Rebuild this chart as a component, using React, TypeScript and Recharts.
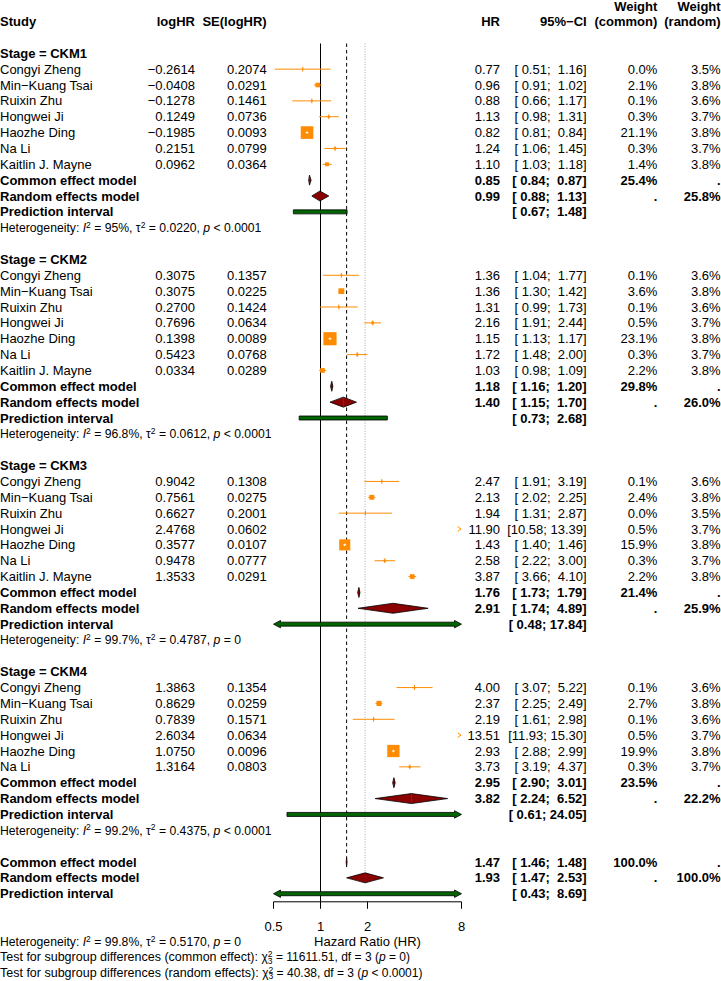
import React from 'react';
import { ComposedChart, XAxis, YAxis, Scatter, ReferenceLine } from 'recharts';

const FONT = "'Liberation Sans', Arial, Helvetica, sans-serif";
const MINUS = '\u2212';
const ORANGE = '#ff8c00';
const DIAMOND = '#8b0000';
const PRED = '#006400';

// values
const stageNames = ['CKM1', 'CKM2', 'CKM3', 'CKM4'];
const studyNames = ['Congyi Zheng', `Min${MINUS}Kuang Tsai`, 'Ruixin Zhu', 'Hongwei Ji', 'Haozhe Ding', 'Na Li', 'Kaitlin J. Mayne'];

const logHR = [
  [-0.2614, -0.0408, -0.1278, 0.1249, -0.1985, 0.2151, 0.0962],
  [0.3075, 0.3075, 0.27, 0.7696, 0.1398, 0.5423, 0.0334],
  [0.9042, 0.7561, 0.6627, 2.4768, 0.3577, 0.9478, 1.3533],
  [1.3863, 0.8629, 0.7839, 2.6034, 1.075, 1.3164],
];
const seLogHR = [
  [0.2074, 0.0291, 0.1461, 0.0736, 0.0093, 0.0799, 0.0364],
  [0.1357, 0.0225, 0.1424, 0.0634, 0.0089, 0.0768, 0.0289],
  [0.1308, 0.0275, 0.2001, 0.0602, 0.0107, 0.0777, 0.0291],
  [0.1354, 0.0259, 0.1571, 0.0634, 0.0096, 0.0803],
];
const hr = [
  [0.77, 0.96, 0.88, 1.13, 0.82, 1.24, 1.1],
  [1.36, 1.36, 1.31, 2.16, 1.15, 1.72, 1.03],
  [2.47, 2.13, 1.94, 11.9, 1.43, 2.58, 3.87],
  [4.0, 2.37, 2.19, 13.51, 2.93, 3.73],
];
const ciLow = [
  [0.51, 0.91, 0.66, 0.98, 0.81, 1.06, 1.03],
  [1.04, 1.3, 0.99, 1.91, 1.13, 1.48, 0.98],
  [1.91, 2.02, 1.31, 10.58, 1.4, 2.22, 3.66],
  [3.07, 2.25, 1.61, 11.93, 2.88, 3.19],
];
const ciHigh = [
  [1.16, 1.02, 1.17, 1.31, 0.84, 1.45, 1.18],
  [1.77, 1.42, 1.73, 2.44, 1.17, 2.0, 1.09],
  [3.19, 2.25, 2.87, 13.39, 1.46, 3.0, 4.1],
  [5.22, 2.49, 2.98, 15.3, 2.99, 4.37],
];
const weightCommon = [
  [0.0, 2.1, 0.1, 0.3, 21.1, 0.3, 1.4],
  [0.1, 3.6, 0.1, 0.5, 23.1, 0.3, 2.2],
  [0.1, 2.4, 0.0, 0.5, 15.9, 0.3, 2.2],
  [0.1, 2.7, 0.1, 0.5, 19.9, 0.3],
];
const weightRandom = [
  [3.5, 3.8, 3.6, 3.7, 3.8, 3.7, 3.8],
  [3.6, 3.8, 3.6, 3.7, 3.8, 3.7, 3.8],
  [3.6, 3.8, 3.5, 3.7, 3.8, 3.7, 3.8],
  [3.6, 3.8, 3.6, 3.7, 3.8, 3.7],
];

const commonEst = [0.85, 1.18, 1.76, 2.95];
const commonLow = [0.84, 1.16, 1.73, 2.9];
const commonHigh = [0.87, 1.2, 1.79, 3.01];
const commonWeight = [25.4, 29.8, 21.4, 23.5];
const randomEst = [0.99, 1.4, 2.91, 3.82];
const randomLow = [0.88, 1.15, 1.74, 2.24];
const randomHigh = [1.13, 1.7, 4.89, 6.52];
const randomWeight = [25.8, 26.0, 25.9, 22.2];
const predLow = [0.67, 0.73, 0.48, 0.61];
const predHigh = [1.48, 2.68, 17.84, 24.05];
const hetI2 = ['95%', '96.8%', '99.7%', '99.2%'];
const hetTau2 = ['0.0220', '0.0612', '0.4787', '0.4375'];
const hetP = ['< 0.0001', '< 0.0001', '= 0', '< 0.0001'];

const overallCommon = [1.47, 1.46, 1.48];
const overallRandom = [1.93, 1.47, 2.53];
const overallPred = [0.43, 8.69];
const overallHet = ['99.8%', '0.5170', '= 0'];
const testCommon = ['11611.51', '3', '= 0'];
const testRandom = ['40.38', '3', '< 0.0001'];

const xTicks = [0.5, 1, 2, 8];
const X_MIN = 0.5;
const X_MAX = 8;

// ---- helpers ----
const clampX = (v: number) => Math.min(X_MAX, Math.max(X_MIN, v));
const fmtLog = (v: number) => (v < 0 ? MINUS : '') + Math.abs(v).toFixed(4);
const pad = (s: string, n: number) => ' '.repeat(Math.max(0, n - s.length)) + s;
const fmtCI = (lo: number, hi: number) => `[${pad(lo.toFixed(2), 5)}; ${pad(hi.toFixed(2), 5)}]`;
const pct = (w: number) => `${w.toFixed(1)}%`;
const squareSide = (w: number) => 2.55 * Math.sqrt(w) + 0.9;

type TextRow = { x: number; y: number; kind: string; label?: string; cells?: string[]; het?: string[] };
type Pooled = { y: number; est: number; lo: number; hi: number };

const textRows: TextRow[] = [
  { x: 1, y: -3, kind: 'head1' },
  { x: 1, y: -2, kind: 'head2' },
];
const studyPoints: { x: number; y: number; w: number; over: boolean; lo: number; hi: number }[] = [];
const diamonds: Pooled[] = [];
const predBars: { y: number; lo: number; hi: number }[] = [];

let r = 0;
stageNames.forEach((s, g) => {
  textRows.push({ x: 1, y: r, kind: 'stage', label: `Stage = ${s}` });
  logHR[g].forEach((v, i) => {
    const y = r + 1 + i;
    textRows.push({
      x: 1, y, kind: 'study', label: studyNames[i],
      cells: [fmtLog(v), seLogHR[g][i].toFixed(4), hr[g][i].toFixed(2), fmtCI(ciLow[g][i], ciHigh[g][i]), pct(weightCommon[g][i]), pct(weightRandom[g][i])],
    });
    studyPoints.push({ x: clampX(hr[g][i]), y, w: weightCommon[g][i], over: hr[g][i] > X_MAX, lo: ciLow[g][i], hi: ciHigh[g][i] });
  });
  const n = logHR[g].length;
  const yc = r + n + 1;
  textRows.push({ x: 1, y: yc, kind: 'common', label: 'Common effect model', cells: ['', '', commonEst[g].toFixed(2), fmtCI(commonLow[g], commonHigh[g]), pct(commonWeight[g]), '.'] });
  textRows.push({ x: 1, y: yc + 1, kind: 'random', label: 'Random effects model', cells: ['', '', randomEst[g].toFixed(2), fmtCI(randomLow[g], randomHigh[g]), '.', pct(randomWeight[g])] });
  textRows.push({ x: 1, y: yc + 2, kind: 'pred', label: 'Prediction interval', cells: ['', '', '', fmtCI(predLow[g], predHigh[g]), '', ''] });
  textRows.push({ x: 1, y: yc + 3, kind: 'het', het: [hetI2[g], hetTau2[g], hetP[g]] });
  diamonds.push({ y: yc, est: commonEst[g], lo: commonLow[g], hi: commonHigh[g] });
  diamonds.push({ y: yc + 1, est: randomEst[g], lo: randomLow[g], hi: randomHigh[g] });
  predBars.push({ y: yc + 2, lo: predLow[g], hi: predHigh[g] });
  r = yc + 5;
});
const overallRow = r;
textRows.push({ x: 1, y: overallRow, kind: 'common', label: 'Common effect model', cells: ['', '', overallCommon[0].toFixed(2), fmtCI(overallCommon[1], overallCommon[2]), '100.0%', '.'] });
textRows.push({ x: 1, y: overallRow + 1, kind: 'random', label: 'Random effects model', cells: ['', '', overallRandom[0].toFixed(2), fmtCI(overallRandom[1], overallRandom[2]), '.', '100.0%'] });
textRows.push({ x: 1, y: overallRow + 2, kind: 'pred', label: 'Prediction interval', cells: ['', '', '', fmtCI(overallPred[0], overallPred[1]), '', ''] });
diamonds.push({ y: overallRow, est: overallCommon[0], lo: overallCommon[1], hi: overallCommon[2] });
diamonds.push({ y: overallRow + 1, est: overallRandom[0], lo: overallRandom[1], hi: overallRandom[2] });
predBars.push({ y: overallRow + 2, lo: overallPred[0], hi: overallPred[1] });

// column anchors (right edges) for the text table
const colEnds = [195, 266.7, 500, 586.7, 657.3, 720.6];

function Sup({ children }: { children: React.ReactNode }) {
  return <tspan dy={-4.5} fontSize={8.5}>{children}</tspan>;
}

function HetText({ x, y, vals }: { x: number; y: number; vals: string[] }) {
  return (
    <text x={x} y={y} fontSize={12.2} fontFamily={FONT} fill="#000">
      Heterogeneity: <tspan fontStyle="italic">I</tspan><Sup>2</Sup><tspan dy={4.5}> = {vals[0]}, τ</tspan><Sup>2</Sup><tspan dy={4.5}> = {vals[1]}, </tspan><tspan fontStyle="italic">p</tspan> {vals[2]}
    </text>
  );
}

function TestText({ x, y, label, vals }: { x: number; y: number; label: string; vals: string[] }) {
  return (
    <text x={x} y={y} fontSize={12} fontFamily={FONT} fill="#000">
      <tspan fontSize={12.5}>{label}: </tspan>χ<Sup>2</Sup><tspan dx={-4.7} dy={6.8} fontSize={8.5}>3</tspan><tspan dy={-2.3}> = {vals[0]}, df = {vals[1]} (</tspan><tspan fontStyle="italic">p</tspan> {vals[2]})
    </text>
  );
}

function RowText(props: any) {
  const { cy, payload } = props;
  const row = payload as TextRow;
  const base = cy + 4.6;
  if (row.kind === 'het') return <HetText x={0} y={cy + 4.3} vals={row.het || []} />;
  const common = { fontFamily: FONT, fontSize: 13, fill: '#000' };
  if (row.kind === 'head1') {
    return (
      <g fontWeight="bold">
        <text {...common} x={colEnds[4]} y={base + 0.3} textAnchor="end">Weight</text>
        <text {...common} x={colEnds[5]} y={base + 0.3} textAnchor="end">Weight</text>
      </g>
    );
  }
  if (row.kind === 'head2') {
    const heads = ['logHR', 'SE(logHR)', 'HR', `95%${MINUS}CI`, '(common)', '(random)'];
    return (
      <g fontWeight="bold">
        <text {...common} x={0} y={base}>Study</text>
        {heads.map((h, i) => (
          <text key={i} {...common} x={colEnds[i]} y={base} textAnchor="end">{h}</text>
        ))}
      </g>
    );
  }
  const bold = row.kind !== 'study';
  return (
    <g fontWeight={bold ? 'bold' : 'normal'}>
      <text {...common} x={0} y={base}>{row.label}</text>
      {(row.cells || []).map((c, i) =>
        c ? (
          <text key={i} {...common} x={colEnds[i]} y={base} textAnchor="end" style={{ whiteSpace: 'pre' }} xmlSpace="preserve">{c}</text>
        ) : null
      )}
    </g>
  );
}

function StudySquare(props: any) {
  const { cx, cy, payload } = props;
  if (payload.over) {
    return <polyline points={`${cx - 3.8},${cy - 2.3} ${cx - 0.5},${cy} ${cx - 3.8},${cy + 2.3}`} fill="none" stroke={ORANGE} strokeWidth={1} />;
  }
  const s = squareSide(payload.w);
  return (
    <g>
      <rect x={cx - s / 2} y={cy - s / 2} width={s} height={s} fill={ORANGE} />
      {s < 3 && <line x1={cx} x2={cx} y1={cy - 2.4} y2={cy + 2.4} stroke={ORANGE} strokeWidth={1} />}
      {payload.w >= 10 && (
        <g stroke="#fff" strokeWidth={1}>
          <line x1={cx - 1.4} x2={cx + 1.4} y1={cy} y2={cy} />
          <line x1={cx} x2={cx} y1={cy - 1.2} y2={cy + 1.2} />
        </g>
      )}
    </g>
  );
}

const ciShape = (side: number) => (p: any) => {
  const inside = Math.abs(p.x2 - p.x1) < side;
  return <line x1={p.x1} y1={p.y1} x2={p.x2} y2={p.y2} stroke={inside ? '#fff' : ORANGE} strokeWidth={1} />;
};

const DH = 5;
const diamondHalf = (left: boolean) => (p: any) => {
  const { x1, y1, x2 } = p;
  const y = y1;
  if (left) {
    return (
      <g>
        <polygon points={`${x1},${y} ${x2 + 0.4},${y - DH} ${x2 + 0.4},${y + DH}`} fill={DIAMOND} />
        <polyline points={`${x2},${y - DH} ${x1},${y} ${x2},${y + DH}`} fill="none" stroke="#000" strokeWidth={0.8} />
      </g>
    );
  }
  return (
    <g>
      <polygon points={`${x1},${y - DH} ${x2},${y} ${x1},${y + DH}`} fill={DIAMOND} />
      <polyline points={`${x1},${y - DH} ${x2},${y} ${x1},${y + DH}`} fill="none" stroke="#000" strokeWidth={0.8} />
    </g>
  );
};

const predShape = (arrowL: boolean, arrowR: boolean) => (p: any) => {
  const { x1, y1: y, x2 } = p;
  const h = 2;
  const ah = 3.7;
  const al = 7;
  const pts: number[][] = [];
  if (arrowL) pts.push([x1, y], [x1 + al, y - ah], [x1 + al, y - h]);
  else pts.push([x1, y - h]);
  if (arrowR) pts.push([x2 - al, y - h], [x2 - al, y - ah], [x2, y], [x2 - al, y + ah], [x2 - al, y + h]);
  else pts.push([x2, y - h], [x2, y + h]);
  if (arrowL) pts.push([x1 + al, y + h], [x1 + al, y + ah]);
  else pts.push([x1, y + h]);
  return <polygon points={pts.map((q) => q.join(',')).join(' ')} fill={PRED} stroke="#000" strokeWidth={0.8} />;
};

function AxisFooter(props: any) {
  const vb = props.viewBox || { x: 273.5, y: 901.8, width: 188, height: 30 };
  return (
    <g>
      <text x={vb.x + vb.width / 2} y={vb.y + 44.4} textAnchor="middle" fontSize={13} fontFamily={FONT} fill="#000">Hazard Ratio (HR)</text>
      <HetText x={0} y={vb.y + 44.2} vals={overallHet} />
      <TestText x={0} y={vb.y + 59.5} label="Test for subgroup differences (common effect)" vals={testCommon} />
      <TestText x={0} y={vb.y + 75.3} label="Test for subgroup differences (random effects)" vals={testRandom} />
    </g>
  );
}

const LINE_TOP = -0.62;

export default function App() {
  return (
    <div style={{ position: 'absolute', left: 0, top: 0, background: '#fff' }}>
      <ComposedChart width={721} height={981} margin={{ top: 5.73, right: 259.5, bottom: 49.2, left: 273.5 }}>
        <XAxis
          type="number"
          dataKey="x"
          scale="log"
          domain={[X_MIN, X_MAX]}
          ticks={xTicks}
          interval={0}
          height={30}
          tickSize={7}
          tickMargin={12.6}
          axisLine={{ stroke: '#000' }}
          tickLine={{ stroke: '#000' }}
          tick={{ fill: '#000', fontSize: 13, fontFamily: FONT }}
          label={<AxisFooter />}
        />
        <YAxis type="number" dataKey="y" domain={[-3, 53.51]} reversed hide />

        <ReferenceLine ifOverflow="visible" segment={[{ x: 1, y: LINE_TOP }, { x: 1, y: 53.51 }]} stroke="#000" strokeWidth={1} />
        <ReferenceLine ifOverflow="visible" segment={[{ x: overallCommon[0], y: LINE_TOP }, { x: overallCommon[0], y: overallRow - 0.33 }]} stroke="#000" strokeWidth={1} strokeDasharray="3.5 3" />
        <ReferenceLine ifOverflow="visible" segment={[{ x: overallRandom[0], y: LINE_TOP }, { x: overallRandom[0], y: overallRow + 0.67 }]} stroke="#a8a8a8" strokeWidth={1} strokeDasharray="1 1.6" />

        {studyPoints.filter((s) => s.lo < X_MAX).map((s, i) => (
          <ReferenceLine
            key={`ci${i}`}
            ifOverflow="visible"
            segment={[{ x: clampX(s.lo), y: s.y }, { x: clampX(s.hi), y: s.y }]}
            shape={ciShape(squareSide(s.w))}
          />
        ))}

        <Scatter data={studyPoints} dataKey="y" shape={StudySquare} isAnimationActive={false} />

        {diamonds.map((d, i) => (
          <ReferenceLine key={`dl${i}`} ifOverflow="visible" segment={[{ x: d.lo, y: d.y }, { x: d.est, y: d.y }]} shape={diamondHalf(true)} />
        ))}
        {diamonds.map((d, i) => (
          <ReferenceLine key={`dr${i}`} ifOverflow="visible" segment={[{ x: d.est, y: d.y }, { x: d.hi, y: d.y }]} shape={diamondHalf(false)} />
        ))}

        {predBars.map((b, i) => (
          <ReferenceLine
            key={`pi${i}`}
            ifOverflow="visible"
            segment={[{ x: clampX(b.lo), y: b.y }, { x: clampX(b.hi), y: b.y }]}
            shape={predShape(b.lo < X_MIN, b.hi > X_MAX)}
          />
        ))}

        <Scatter data={textRows} dataKey="y" shape={RowText} isAnimationActive={false} />
      </ComposedChart>
    </div>
  );
}
